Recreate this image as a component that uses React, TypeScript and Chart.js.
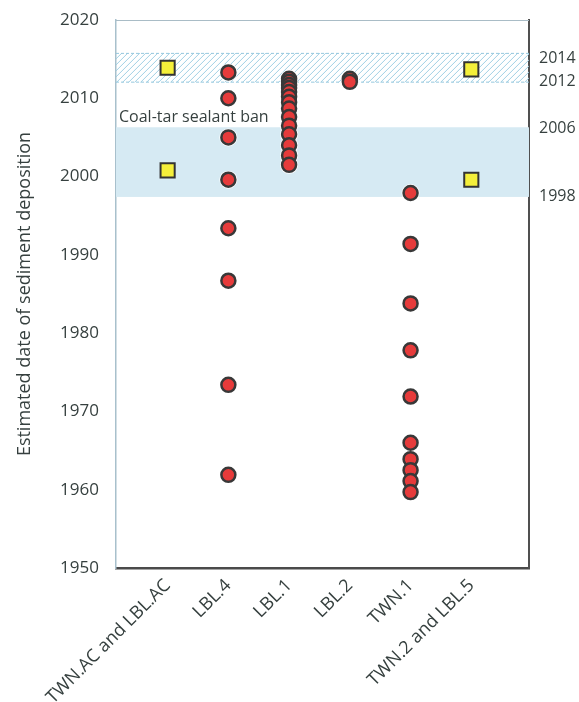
import React, { useEffect, useRef } from "react";
import { Chart, registerables } from "chart.js";
Chart.register(...registerables);

// ---- data ----
const categories = ["TWN.AC and LBL.AC", "LBL.4", "LBL.1", "LBL.2", "TWN.1", "TWN.2 and LBL.5"];
const twnAcLblAc = [2013.9, 2000.8];
const lbl4 = [2013.3, 2010.0, 2005.0, 1999.6, 1993.4, 1986.7, 1973.4, 1961.9];
const lbl1 = [2012.5, 2012.1, 2011.7, 2011.3, 2010.8, 2010.2, 2009.5, 2008.7, 2007.6, 2006.5, 2005.4, 2004.0, 2002.7, 2001.5];
const lbl2 = [2012.5, 2012.1];
const twn1 = [1997.9, 1991.4, 1983.8, 1977.8, 1971.9, 1966.0, 1963.9, 1962.5, 1961.1, 1959.7];
const twn2Lbl5 = [2013.7, 1999.6];

const hatchBand = [2012.0, 2015.8];
const blueBand = [1997.4, 2006.3];
const banLabel = "Coal-tar sealant ban";
const banLabelYear = 2007.6;

const rightTickValues = [2015.1, 2012.1, 2006.2, 1997.5];
const rightTickLabels = ["2014", "2012", "2006", "1998"];

const yTitle = "Estimated date of sediment deposition";

const FONT = "'Open Sans', 'Noto Sans', sans-serif";
const TEXT = "#36403f";

export default function App() {
  const ref = useRef<HTMLCanvasElement | null>(null);

  useEffect(() => {
    if (!ref.current) return;
    const pts = (arr: number[], i: number) => arr.map((v) => ({ x: i, y: v }));
    const circleData = [...pts(lbl4, 1), ...pts(lbl1, 2), ...pts(lbl2, 3), ...pts(twn1, 4)];
    const squareData = [...pts(twnAcLblAc, 0), ...pts(twn2Lbl5, 5)];

    const bandsPlugin = {
      id: "bands",
      beforeDatasetsDraw(chart: any) {
        const { ctx, chartArea: a, scales } = chart;
        const y = scales.y;
        const w = a.right - a.left;
        ctx.save();
        // blue band
        const bt = y.getPixelForValue(blueBand[1]);
        const bb = y.getPixelForValue(blueBand[0]);
        ctx.fillStyle = "rgb(214,234,243)";
        ctx.fillRect(a.left, bt, w, bb - bt);
        // hatched band
        const ht = y.getPixelForValue(hatchBand[1]);
        const hb = y.getPixelForValue(hatchBand[0]);
        ctx.save();
        ctx.beginPath();
        ctx.rect(a.left, ht, w, hb - ht);
        ctx.clip();
        ctx.beginPath();
        ctx.strokeStyle = "rgb(160,208,228)";
        ctx.lineWidth = 1;
        const h = hb - ht;
        for (let x0 = a.left - h; x0 < a.right + h; x0 += 6) {
          ctx.moveTo(x0, hb);
          ctx.lineTo(x0 + h, ht);
        }
        ctx.stroke();
        ctx.restore();
        ctx.beginPath();
        ctx.strokeStyle = "rgb(150,200,222)";
        ctx.lineWidth = 1;
        ctx.setLineDash([3, 2]);
        ctx.moveTo(a.left, ht + 0.5);
        ctx.lineTo(a.right, ht + 0.5);
        ctx.moveTo(a.left, hb - 0.5);
        ctx.lineTo(a.right, hb - 0.5);
        ctx.stroke();
        ctx.setLineDash([]);
        // label
        ctx.fillStyle = TEXT;
        ctx.font = `16px ${FONT}`;
        ctx.textAlign = "left";
        ctx.textBaseline = "middle";
        ctx.fillText(banLabel, a.left + 3, y.getPixelForValue(banLabelYear));
        ctx.restore();
      },
      afterDraw(chart: any) {
        const { ctx, chartArea: a } = chart;
        ctx.save();
        ctx.beginPath();
        ctx.strokeStyle = "#a9bcc6";
        ctx.lineWidth = 1;
        ctx.moveTo(a.left, a.top + 0.5);
        ctx.lineTo(a.right, a.top + 0.5);
        ctx.stroke();
        ctx.restore();
      },
    };

    const chart = new Chart(ref.current, {
      type: "scatter",
      data: {
        datasets: [
          {
            label: "squares",
            data: squareData,
            pointStyle: "rect",
            pointRadius: 10,
            backgroundColor: "#f4ef3a",
            borderColor: "#333333",
            borderWidth: 2,
            order: 1,
          },
          {
            label: "circles",
            data: circleData,
            pointStyle: "circle",
            pointRadius: 7,
            backgroundColor: "#e63b3b",
            borderColor: "#383838",
            borderWidth: 2.5,
            order: 1,
          },
          {
            label: "halo",
            data: circleData,
            pointStyle: "circle",
            pointRadius: 9,
            backgroundColor: "#ffffff",
            borderWidth: 0,
            order: 2,
          },
        ],
      },
      options: {
        animation: false,
        responsive: true,
        maintainAspectRatio: false,
        layout: { padding: { top: 20, left: 0, right: 0, bottom: 0 } },
        plugins: { legend: { display: false }, tooltip: { enabled: false } },
        scales: {
          x: {
            type: "linear",
            min: -0.85,
            max: 5.95,
            afterBuildTicks: (s: any) => {
              s.ticks = categories.map((_, i) => ({ value: i }));
            },
            afterFit: (s: any) => {
              s.height = 134;
              s.paddingLeft = 0;
              s.paddingRight = 0;
            },
            grid: { display: false, drawTicks: false },
            border: { display: true, color: "#4a4a4a", width: 2.5 },
            ticks: {
              autoSkip: false,
              minRotation: 45,
              maxRotation: 45,
              padding: 7,
              color: TEXT,
              font: { family: FONT, size: 18 },
              callback: (v: any) => categories[Math.round(Number(v))] ?? "",
            },
          },
          y: {
            type: "linear",
            position: "left",
            min: 1950,
            max: 2020,
            afterFit: (s: any) => {
              s.width = 116;
              s.paddingTop = 0;
              s.paddingBottom = 0;
            },
            grid: { display: false, drawTicks: false },
            border: { display: true, color: "#a8c0cc", width: 1.5 },
            ticks: {
              stepSize: 10,
              padding: 17,
              color: TEXT,
              font: { family: FONT, size: 17 },
              callback: (v: any) => String(v),
            },
            title: {
              display: true,
              text: yTitle,
              color: TEXT,
              font: { family: FONT, size: 18 },
              padding: { top: 14, bottom: 0 },
            },
          },
          y2: {
            type: "linear",
            position: "right",
            min: 1950,
            max: 2020,
            afterBuildTicks: (s: any) => {
              s.ticks = rightTickValues.map((v) => ({ value: v }));
            },
            afterFit: (s: any) => {
              s.width = 50;
              s.paddingTop = 0;
              s.paddingBottom = 0;
            },
            grid: { display: false, drawTicks: false },
            border: { display: true, color: "#505050", width: 2 },
            ticks: {
              autoSkip: false,
              padding: 10,
              color: TEXT,
              font: { family: FONT, size: 16 },
              callback: (_v: any, i: number) => rightTickLabels[i] ?? "",
            },
          },
        },
      },
      plugins: [bandsPlugin],
    });
    return () => chart.destroy();
  }, []);

  return (
    <div style={{ position: "fixed", left: 0, top: 0, width: 579, height: 702, background: "#fff" }}>
      <canvas ref={ref} />
    </div>
  );
}
